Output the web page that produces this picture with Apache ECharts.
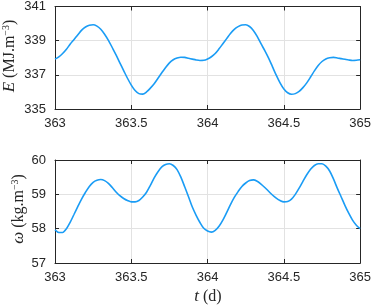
<!DOCTYPE html>
<html><head><meta charset="utf-8">
<script src="https://cdn.jsdelivr.net/npm/echarts@6/dist/echarts.min.js"></script>
<style>html,body{margin:0;padding:0;background:#fff}#c{width:374px;height:307px}</style>
</head><body><div id="c"></div>
<script>
const tE = [363.000,363.025,363.050,363.075,363.100,363.125,363.150,363.175,363.200,363.225,363.250,363.275,363.300,363.325,363.350,363.375,363.400,363.425,363.450,363.475,363.500,363.525,363.550,363.575,363.600,363.625,363.650,363.675,363.700,363.725,363.750,363.775,363.800,363.825,363.850,363.875,363.900,363.925,363.950,363.975,364.000,364.025,364.050,364.075,364.100,364.125,364.150,364.175,364.200,364.225,364.250,364.275,364.300,364.325,364.350,364.375,364.400,364.425,364.450,364.475,364.500,364.525,364.550,364.575,364.600,364.625,364.650,364.675,364.700,364.725,364.750,364.775,364.800,364.825,364.850,364.875,364.900,364.925,364.950,364.975,365.000];
const E = [337.92,338.05,338.25,338.50,338.80,339.07,339.35,339.62,339.80,339.90,339.93,339.85,339.67,339.38,339.02,338.60,338.17,337.70,337.25,336.80,336.40,336.08,335.90,335.87,336.00,336.22,336.48,336.80,337.12,337.43,337.70,337.88,337.98,338.03,338.02,337.97,337.92,337.87,337.84,337.85,337.93,338.06,338.25,338.52,338.82,339.12,339.42,339.66,339.82,339.92,339.93,339.83,339.60,339.25,338.82,338.42,337.98,337.48,336.98,336.53,336.17,335.95,335.86,335.90,336.03,336.25,336.53,336.87,337.23,337.55,337.78,337.93,338.00,338.02,337.99,337.95,337.91,337.87,337.84,337.85,337.88];
const tW = tE;
const W = [57.97,57.89,57.89,58.00,58.19,58.42,58.65,58.87,59.06,59.23,59.35,59.41,59.43,59.40,59.32,59.20,59.07,58.96,58.88,58.82,58.78,58.78,58.82,58.92,59.06,59.26,59.48,59.66,59.80,59.87,59.89,59.84,59.72,59.50,59.22,58.93,58.63,58.39,58.18,58.01,57.93,57.90,57.95,58.07,58.25,58.47,58.70,58.91,59.08,59.23,59.33,59.40,59.42,59.38,59.30,59.20,59.09,58.98,58.89,58.82,58.78,58.79,58.86,59.00,59.18,59.38,59.57,59.73,59.84,59.89,59.89,59.82,59.68,59.45,59.18,58.93,58.68,58.45,58.25,58.10,58.00];
const xTicks = [363, 363.5, 364, 364.5, 365];
const eTicks = [335, 337, 339, 341];
const wTicks = [57, 58, 59, 60];

const chart = echarts.init(document.getElementById('c'), null, {renderer:'canvas'});
const AX = '#262626', GRID = '#e2e2e2', LINE = '#1a9cf5';
const labelFont = {fontFamily:'Liberation Sans, Arial, sans-serif', fontSize:13, color:'#262626'};
const serif = 'Liberation Serif, DejaVu Serif, serif';

function xAx(gi, main){
  return {type:'value', gridIndex:gi, min:xTicks[0], max:xTicks[xTicks.length-1], interval:0.5,
    position: main ? 'bottom':'top',
    axisLine:{show:true, onZero:false, lineStyle:{color:AX, width:1}},
    axisTick:{show:true, inside:true, length:4, lineStyle:{color:AX}},
    axisLabel: main ? Object.assign({show:true, margin:8, formatter:v=>String(v)}, labelFont) : {show:false},
    splitLine:{show:main, lineStyle:{color:GRID, width:1}}};
}
function yAx(gi, ticks, main){
  return {type:'value', gridIndex:gi, min:ticks[0], max:ticks[ticks.length-1], interval:ticks[1]-ticks[0],
    position: main ? 'left':'right',
    axisLine:{show:true, onZero:false, lineStyle:{color:AX, width:1}},
    axisTick:{show:true, inside:true, length:4, lineStyle:{color:AX}},
    axisLabel: main ? Object.assign({show:true, margin:9}, labelFont) : {show:false},
    splitLine:{show:main, lineStyle:{color:GRID, width:1}}};
}
const rich = {i:{fontFamily:serif, fontStyle:'italic', fontSize:17, fill:'#262626'},
              n:{fontFamily:serif, fontSize:16, fill:'#262626'},
              s:{fontFamily:serif, fontSize:10, fill:'#262626', padding:[0,0,8,0]}};

chart.setOption({
  animation:false,
  backgroundColor:'#fff',
  grid:[
    {left:55, top:6, width:307, height:103, show:false},
    {left:55, top:160, width:307, height:103, show:false}
  ],
  xAxis:[xAx(0,true), xAx(1,true), xAx(0,false), xAx(1,false)],
  yAxis:[yAx(0,eTicks,true), yAx(1,wTicks,true), yAx(0,eTicks,false), yAx(1,wTicks,false)],
  series:[
    {type:'line', xAxisIndex:0, yAxisIndex:0, data:tE.map((t,i)=>[t,E[i]]), smooth:0.3, showSymbol:false,
     lineStyle:{color:LINE, width:1.6}},
    {type:'line', xAxisIndex:1, yAxisIndex:1, data:tW.map((t,i)=>[t,W[i]]), smooth:0.3, showSymbol:false,
     lineStyle:{color:LINE, width:1.6}}
  ],
  graphic:[
    {type:'text', x:10, y:56, rotation:Math.PI/2, style:{
      text:'{i|E} {n|(MJ.m}{s|−3}{n|)}', align:'center', verticalAlign:'middle', rich:rich,
      font:'16px '+serif, fill:'#262626'}},
    {type:'text', x:19, y:209, rotation:Math.PI/2, style:{
      text:'{i|ω} {n|(kg.m}{s|−3}{n|)}', align:'center', verticalAlign:'middle', rich:rich,
      font:'16px '+serif, fill:'#262626'}},
    {type:'text', x:208, y:297, style:{
      text:'{i|t} {n|(d)}', align:'center', verticalAlign:'middle', rich:rich,
      font:'16px '+serif, fill:'#262626'}}
  ]
});
</script></body></html>
